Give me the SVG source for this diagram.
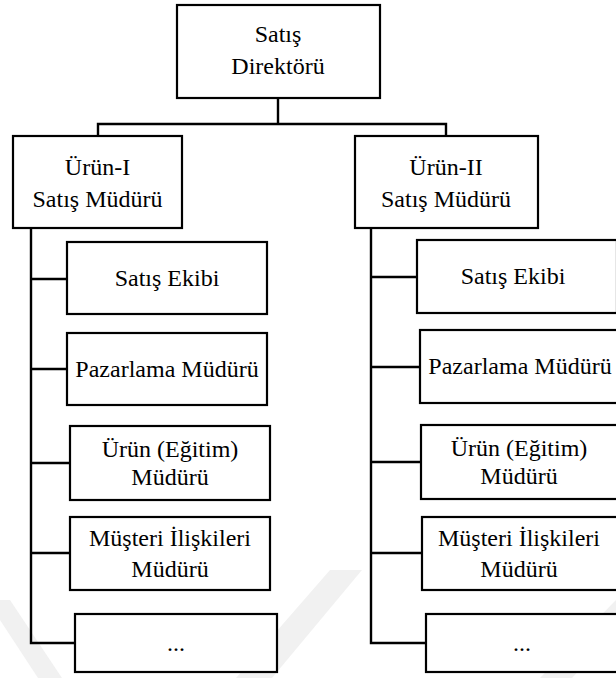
<svg xmlns="http://www.w3.org/2000/svg" width="616" height="678" viewBox="0 0 616 678">
  <style>
    .box { fill: #ffffff; stroke: #000000; stroke-width: 2.2; }
    .wire { fill: none; stroke: #000000; stroke-width: 2.4; stroke-linecap: square; }
    .lbl { font-family: 'Liberation Serif', 'DejaVu Serif', 'Times New Roman', Times, serif; font-size: 24px; text-anchor: middle; fill: #000000; }
    .mark { fill: #f1f1f1; }
  </style>
  <rect width="616" height="678" fill="#ffffff"/>

  <!-- faint background watermark bands -->
  <g id="watermark">
    <polygon class="mark" points="0,600 10,600 62,678 38,678 0,620"/>
    <polygon class="mark" points="236,678 330,570 362,570 272,678"/>
    <polygon class="mark" points="540,678 616,600 616,630 572,678"/>
  </g>

  <!-- connectors -->
  <g id="connectors">
    <path class="wire" d="M278,98 V124 M98,124 H446 M98,124 V136 M446,124 V136"/>
    <path class="wire" d="M31,228 V643 H75 M31,279 H67 M31,369 H67 M31,463 H70 M31,553 H70"/>
    <path class="wire" d="M371,228 V643 H426 M371,277 H417 M371,367 H420 M371,462 H421 M371,553 H422"/>
  </g>

  <g id="satis-direktoru">
    <rect class="box" x="177" y="5" width="203" height="93"/>
    <text class="lbl" x="278" y="42">Satış</text>
    <text class="lbl" x="278" y="74">Direktörü</text>
  </g>

  <g id="urun1-satis-muduru">
    <rect class="box" x="13" y="136" width="169" height="92"/>
    <text class="lbl" x="97.5" y="175">Ürün-I</text>
    <text class="lbl" x="97.5" y="207">Satış Müdürü</text>
  </g>

  <g id="urun2-satis-muduru">
    <rect class="box" x="355" y="136" width="183" height="92"/>
    <text class="lbl" x="446" y="175">Ürün-II</text>
    <text class="lbl" x="446" y="207">Satış Müdürü</text>
  </g>

  <!-- left column -->
  <g id="l-satis-ekibi">
    <rect class="box" x="67" y="242" width="200" height="72"/>
    <text class="lbl" x="167" y="286">Satış Ekibi</text>
  </g>
  <g id="l-pazarlama">
    <rect class="box" x="67" y="333" width="200" height="72"/>
    <text class="lbl" x="167" y="377">Pazarlama Müdürü</text>
  </g>
  <g id="l-urun-egitim">
    <rect class="box" x="70" y="426" width="200" height="74"/>
    <text class="lbl" x="170" y="457">Ürün (Eğitim)</text>
    <text class="lbl" x="170" y="485">Müdürü</text>
  </g>
  <g id="l-musteri">
    <rect class="box" x="70" y="517" width="200" height="73"/>
    <text class="lbl" x="170" y="546">Müşteri İlişkileri</text>
    <text class="lbl" x="170" y="577">Müdürü</text>
  </g>
  <g id="l-diger">
    <rect class="box" x="75" y="614" width="202" height="58"/>
    <text class="lbl" x="176" y="651">...</text>
  </g>

  <!-- right column -->
  <g id="r-satis-ekibi">
    <rect class="box" x="417" y="240" width="200" height="73"/>
    <text class="lbl" x="513" y="284">Satış Ekibi</text>
  </g>
  <g id="r-pazarlama">
    <rect class="box" x="420" y="330" width="200" height="73"/>
    <text class="lbl" x="520" y="374">Pazarlama Müdürü</text>
  </g>
  <g id="r-urun-egitim">
    <rect class="box" x="421" y="425" width="200" height="74"/>
    <text class="lbl" x="519" y="456">Ürün (Eğitim)</text>
    <text class="lbl" x="519" y="484">Müdürü</text>
  </g>
  <g id="r-musteri">
    <rect class="box" x="422" y="517" width="200" height="73"/>
    <text class="lbl" x="519" y="546">Müşteri İlişkileri</text>
    <text class="lbl" x="519" y="577">Müdürü</text>
  </g>
  <g id="r-diger">
    <rect class="box" x="426" y="614" width="200" height="58"/>
    <text class="lbl" x="522" y="651">...</text>
  </g>
</svg>
